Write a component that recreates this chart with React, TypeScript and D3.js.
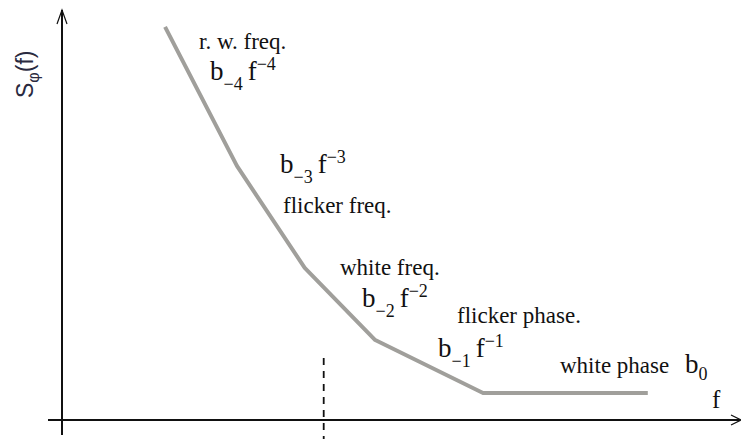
import React from "react";
import * as d3 from "d3";

// Power-law segments of the phase noise spectrum (schematic, arbitrary units)
const breakX = [1.52, 2.58, 3.58, 4.62, 6.21, 8.64];
const breakY = [9.59, 6.2, 3.71, 1.95, 0.66, 0.66];
const cornerX = 3.86; // marked frequency (dashed)
const cornerTop = 1.51;

const noiseNames = ["r. w. freq.", "flicker freq.", "white freq.", "flicker phase.", "white phase"];
const coefSubs = ["−4", "−3", "−2", "−1", "0"];
const powerSups = ["−4", "−3", "−2", "−1", ""];

const W = 741;
const H = 439;

const x = d3.scaleLinear().domain([0, 10]).range([62, 740]);
const y = d3.scaleLinear().domain([0, 10]).range([420, 10]);

// label placement (pixels): name position and term position
const nameAt = [
  [199, 49],
  [283, 213],
  [340, 275],
  [457, 323],
  [560, 373],
];
const termAt = [
  [210, 80],
  [280, 173],
  [362, 307],
  [438, 357],
  [685, 373],
];
const subShift = [10, 10, 10, 10, 7];

const serif = { fontFamily: "Liberation Serif" };
const sans = { fontFamily: "Liberation Sans" };

function Term({ i, px, py }: { i: number; px: number; py: number }) {
  const sub = coefSubs[i];
  const sup = powerSups[i];
  const d = subShift[i];
  return (
    <text x={px} y={py} style={serif} fontSize={27} fill="#111">
      b
      <tspan dy={d} fontSize={18}>
        {sub}
      </tspan>
      {sup && (
        <>
          <tspan dy={-d} dx={5}>f</tspan>
          <tspan dy={-10} fontSize={18}>
            {sup}
          </tspan>
        </>
      )}
    </text>
  );
}

export default function App() {
  const pts: [number, number][] = breakX.map((v, i) => [x(v), y(breakY[i])]);
  const line = d3.line();
  return (
    <svg
      width={W}
      height={H}
      style={{ position: "absolute", left: 0, top: 0, background: "#fff" }}
    >
      {/* axes */}
      <line x1={62} y1={435} x2={62} y2={y(10)} stroke="#111" strokeWidth={2} />
      <path d={`M57,24 L62,${y(10)} L67,24`} fill="none" stroke="#111" strokeWidth={1.2} />
      <line x1={48} y1={y(0)} x2={740} y2={y(0)} stroke="#111" strokeWidth={2} />
      <path d={`M731,415 L741,420 L731,425`} fill="none" stroke="#111" strokeWidth={1.2} />

      {/* dashed marker */}
      <line
        x1={x(cornerX)}
        x2={x(cornerX)}
        y1={y(cornerTop)}
        y2={H}
        stroke="#111"
        strokeWidth={1.8}
        strokeDasharray="7,6"
      />

      {/* spectrum */}
      <path d={line(pts) || ""} fill="none" stroke="#a09f9b" strokeWidth={4} strokeLinejoin="round" />

      {/* labels */}
      {noiseNames.map((n, i) => (
        <text key={n} x={nameAt[i][0]} y={nameAt[i][1]} style={serif} fontSize={23} fill="#111">
          {n}
        </text>
      ))}
      {noiseNames.map((n, i) => (
        <Term key={"t" + i} i={i} px={termAt[i][0]} py={termAt[i][1]} />
      ))}

      <text x={712} y={408} style={serif} fontSize={25} fill="#111">
        f
      </text>

      <text
        transform="translate(33,98) rotate(-90)"
        style={sans}
        fontSize={23}
        fill="#2a2a40"
      >
        S
        <tspan dy={6} fontSize={16}>φ</tspan>
        <tspan dy={-6}>(f)</tspan>
      </text>
    </svg>
  );
}
